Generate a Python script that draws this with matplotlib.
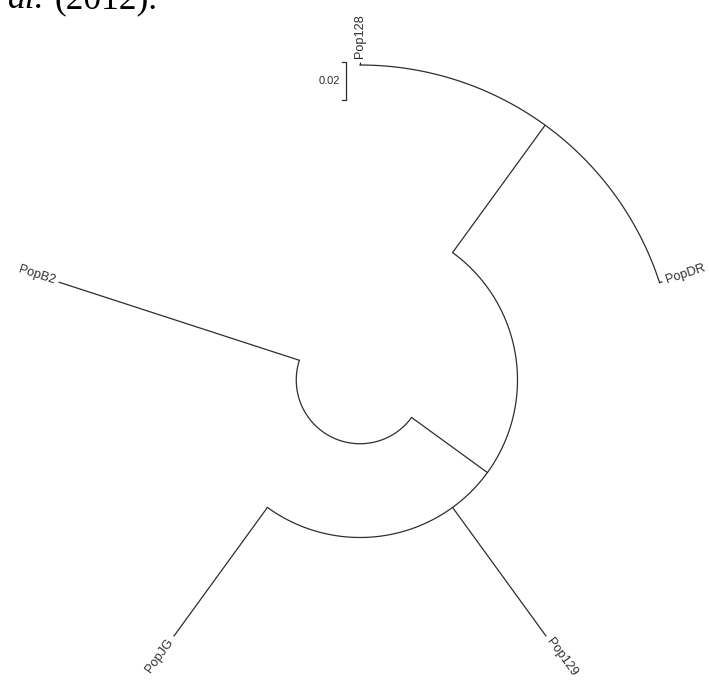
import numpy as np
import matplotlib.pyplot as plt

# tips in plotting order (fan layout, clockwise from top)
tip_labels = ["Pop128", "PopDR", "Pop129", "PopJG", "PopB2"]

# tree edges: parent node -> child, with branch lengths (substitutions/site)
edge_parent = ["A", "A", "B", "B", "B", "D", "D"]
edge_child = ["B", "PopB2", "D", "Pop129", "PopJG", "Pop128", "PopDR"]
edge_len = [0.050, 0.135, 0.084, 0.085, 0.085, 0.0016, 0.0016]
root_edge = 0.034
scale_len = 0.02

LINE = "#2e2e2e"
W, H = 709, 682
PX_PER_UNIT = 1875.0
CX, CY = 360, 380  # centre of the fan in pixels (from top-left)


def children_of(node):
	return [c for p, c in zip(edge_parent, edge_child) if p == node]


def layout():
	# tip angles equally spaced, going clockwise from 90 deg
	ang = {}
	step = 360.0 / len(tip_labels)
	for i, t in enumerate(tip_labels):
		ang[t] = 90.0 - step * i
	# radii from root
	rad = {"A": root_edge}
	order = ["A"]
	for n in order:
		for c in children_of(n):
			i = edge_child.index(c)
			rad[c] = rad[n] + edge_len[i]
			order.append(c)
	# internal node angle = mean of first and last child (post order)
	for n in reversed(order):
		kids = children_of(n)
		if kids:
			kids = sorted(kids, key=lambda k: -ang[k])
			ang[n] = 0.5 * (ang[kids[0]] + ang[kids[-1]])
	return ang, rad


def polar(r, a):
	t = np.deg2rad(a)
	return r * np.cos(t), r * np.sin(t)


ang, rad = layout()

fig = plt.figure(figsize=(W / 100, H / 100), dpi=100)
ax = fig.add_axes([0, 0, 1, 1])
ax.set_xlim(-CX / PX_PER_UNIT, (W - CX) / PX_PER_UNIT)
ax.set_ylim(-(H - CY) / PX_PER_UNIT, CY / PX_PER_UNIT)
ax.axis("off")

# radial branches
for p, c in zip(edge_parent, edge_child):
	x0, y0 = polar(rad[p], ang[c])
	x1, y1 = polar(rad[c], ang[c])
	ax.plot([x0, x1], [y0, y1], color=LINE, lw=0.9, solid_capstyle="butt")

# arcs joining children of each internal node
for n in ["A", "B", "D"]:
	kids = children_of(n)
	a = [ang[k] for k in kids]
	th = np.linspace(min(a), max(a), 200)
	xs, ys = polar(rad[n], th)
	ax.plot(xs, ys, color=LINE, lw=0.9)

# tip labels, rotated along the radius
for t in tip_labels:
	a = ang[t]
	x, y = polar(rad[t] + 0.0022, a)
	a_n = (a + 180) % 360 - 180
	if -90 <= a_n <= 90:
		rot, ha = a_n, "left"
	else:
		rot, ha = a_n + 180 if a_n < 0 else a_n - 180, "right"
	ax.text(x, y, t, rotation=rot, rotation_mode="anchor", ha=ha, va="center",
		fontsize=9.2, color="#2e2e2e", family="Liberation Sans")

# scale bar
sx = -14 / PX_PER_UNIT
top = rad["Pop128"]
ax.plot([sx - 4 / PX_PER_UNIT, sx, sx, sx - 4 / PX_PER_UNIT],
	[top, top, top - scale_len, top - scale_len], color=LINE, lw=0.9)
ax.text(sx - 6 / PX_PER_UNIT, top - scale_len / 2, "0.02", ha="right", va="center",
	fontsize=8, color="#2e2e2e", family="Liberation Sans")

# caption fragment cut off at the top of the page
fig.text(8 / W, 1 - 8 / H, "al.", fontsize=25.5, style="italic",
	family="Liberation Serif", va="baseline", ha="left")
fig.text(55 / W, 1 - 8 / H, "(2012).", fontsize=25.5,
	family="Liberation Serif", va="baseline", ha="left")

fig.savefig("out.png", dpi=100)
